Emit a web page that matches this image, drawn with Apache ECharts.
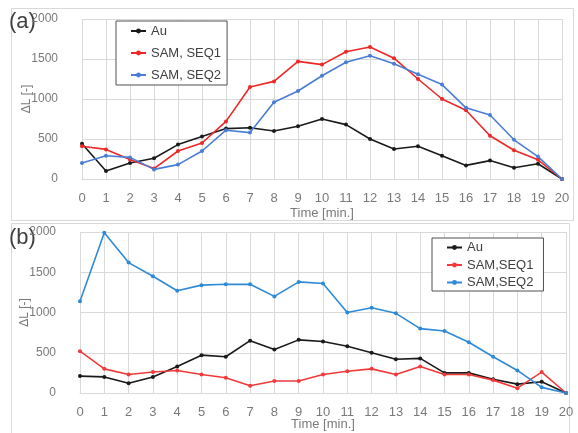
<!DOCTYPE html>
<html>
<head>
<meta charset="utf-8">
<script src="https://cdn.jsdelivr.net/npm/echarts@6/dist/echarts.min.js"></script>
<style>
html,body{margin:0;padding:0;background:#fff;}
#chart{width:578px;height:433px;}
</style>
</head>
<body>
<div id="chart"></div>
<script>
const times = ['0','1','2','3','4','5','6','7','8','9','10','11','12','13','14','15','16','17','18','19','20'];
const yTicks = [0, 500, 1000, 1500, 2000];

const aAu   = [440,100,200,260,430,530,630,640,600,660,750,680,500,375,410,290,170,230,140,190,0];
const aSeq1 = [410,370,245,130,350,450,720,1150,1220,1470,1430,1590,1650,1510,1250,1000,860,540,360,240,0];
const aSeq2 = [200,290,270,120,180,350,610,580,960,1100,1290,1460,1540,1440,1310,1180,890,800,490,280,0];

const bAu   = [210,200,120,200,330,470,450,650,540,660,640,580,500,420,430,250,250,170,110,140,0];
const bSeq1 = [520,300,230,260,280,230,190,90,150,150,230,270,300,230,330,230,230,160,60,260,0];
const bSeq2 = [1140,1990,1620,1450,1270,1340,1350,1350,1200,1380,1360,1000,1060,990,800,770,630,450,280,70,0];

const namesA = ['Au','SAM, SEQ1','SAM, SEQ2'];
const namesB = ['Au','SAM,SEQ1','SAM,SEQ2'];

const gridColor = '#d9d9d9';
const labelColor = '#7a7a7a';

function xAxis(gi, gap){
  return {
    type:'category', gridIndex:gi, data:times, boundaryGap:false,
    axisLine:{show:true, lineStyle:{color:gridColor}},
    axisTick:{show:false},
    axisLabel:{interval:0, color:labelColor, fontSize:13, fontFamily:'Liberation Sans', margin:13},
    splitLine:{show:true, interval:0, lineStyle:{color:gridColor}},
    name:'Time [min.]', nameLocation:'middle', nameGap:gap, nameMoveOverlap:false,
    nameTextStyle:{color:labelColor, fontSize:13, fontFamily:'Liberation Sans'}
  };
}
function yAxis(gi){
  return {
    type:'value', gridIndex:gi, min:yTicks[0], max:yTicks[yTicks.length-1], interval:500,
    axisLine:{show:false}, axisTick:{show:false},
    axisLabel:{color:labelColor, fontSize:12, fontFamily:'Liberation Sans', margin:24,
      formatter:function(v){ return String(v); }},
    splitLine:{show:true, lineStyle:{color:gridColor}},
    name:'ΔL [-]', nameLocation:'middle', nameGap:49, nameRotate:90, nameMoveOverlap:false,
    nameTextStyle:{color:labelColor, fontSize:12, fontFamily:'Liberation Sans'}
  };
}
function line(name, data, color, xi){
  return {
    name:name, type:'line', data:data, xAxisIndex:xi, yAxisIndex:xi,
    symbol:'circle', symbolSize:4, showSymbol:true,
    lineStyle:{color:color, width:1.6}, itemStyle:{color:color},
    animation:false
  };
}

const chart = echarts.init(document.getElementById('chart'), null, {renderer:'canvas'});
chart.setOption({
  backgroundColor:'#ffffff',
  animation:false,
  graphic:[
    {type:'rect', shape:{x:11.5, y:8.5, width:562, height:212}, style:{fill:'none', stroke:gridColor, lineWidth:1}, z:-1},
    {type:'rect', shape:{x:11.5, y:223.5, width:558, height:220}, style:{fill:'none', stroke:gridColor, lineWidth:1}, z:-1},
    {type:'text', left:9, top:11, style:{text:'(a)', fontSize:22, fill:'#404040', fontFamily:'Liberation Sans'}},
    {type:'text', left:9, top:227, style:{text:'(b)', fontSize:22, fill:'#404040', fontFamily:'Liberation Sans'}}
  ],
  grid:[
    {left:82, right:16, top:19, height:160},
    {left:80, right:12, top:232, height:161}
  ],
  xAxis:[xAxis(0, 28), xAxis(1, 25)],
  yAxis:[yAxis(0), yAxis(1)],
  legend:[
    {
      data:namesA, orient:'vertical', left:116, top:21,
      itemWidth:15, itemHeight:6, itemGap:6,
      padding:[2,6,2,14],
      borderColor:'#505050', borderWidth:1, backgroundColor:'#fff',
      textStyle:{color:'#404040', fontSize:13, fontFamily:'Liberation Sans', lineHeight:16}
    },
    {
      data:namesB, orient:'vertical', left:432, top:238,
      itemWidth:15, itemHeight:6, itemGap:2.5,
      padding:[2,10,1,14],
      borderColor:'#505050', borderWidth:1, backgroundColor:'#fff',
      textStyle:{color:'#404040', fontSize:13, fontFamily:'Liberation Sans', lineHeight:15}
    }
  ],
  series:[
    line(namesA[0], aAu, '#1a1a1a', 0),
    line(namesA[1], aSeq1, '#ee2727', 0),
    line(namesA[2], aSeq2, '#4a7ed6', 0),
    line(namesB[0], bAu, '#1a1a1a', 1),
    line(namesB[1], bSeq1, '#f03a3a', 1),
    line(namesB[2], bSeq2, '#2e8ad6', 1)
  ]
});
</script>
</body>
</html>
